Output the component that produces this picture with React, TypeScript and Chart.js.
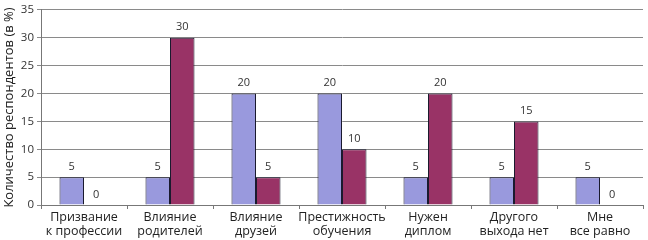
import React, { useEffect, useRef } from "react";
import { Chart, registerables } from "chart.js";

Chart.register(...registerables);

const categories: string[][] = [
  ["Призвание", "к профессии"],
  ["Влияние", "родителей"],
  ["Влияние", "друзей"],
  ["Престижность", "обучения"],
  ["Нужен", "диплом"],
  ["Другого", "выхода нет"],
  ["Мне", "все равно"],
];
const seriesA: number[] = [5, 5, 20, 20, 5, 5, 5];
const seriesB: number[] = [0, 30, 5, 10, 20, 15, 0];
const yTitle = "Количество респондентов (в %)";

const FONT = "'Open Sans', 'Noto Sans', sans-serif";

const valueLabels = {
  id: "valueLabels",
  afterDatasetsDraw(chart: any) {
    const ctx = chart.ctx;
    ctx.save();
    ctx.font = `11px ${FONT}`;
    ctx.fillStyle = "#333";
    ctx.textAlign = "center";
    ctx.textBaseline = "bottom";
    chart.data.datasets.forEach((ds: any, i: number) => {
      const meta = chart.getDatasetMeta(i);
      meta.data.forEach((bar: any, j: number) => {
        ctx.fillText(String(ds.data[j]), bar.x, bar.y - 5);
      });
    });
    ctx.restore();
  },
};

export default function App() {
  const ref = useRef<HTMLCanvasElement>(null);
  useEffect(() => {
    document.body.style.margin = "0";
    const chart = new Chart(ref.current!, {
      type: "bar",
      data: {
        labels: categories,
        datasets: [
          {
            data: seriesA,
            backgroundColor: "#9999dd",
            borderColor: "#1a1a2e",
            borderWidth: 1,
            categoryPercentage: 0.57,
            barPercentage: 1,
          },
          {
            data: seriesB,
            backgroundColor: "#993366",
            borderColor: "#1a1a2e",
            borderWidth: 1,
            categoryPercentage: 0.57,
            barPercentage: 1,
          },
        ],
      },
      options: {
        animation: false,
        responsive: false,
        maintainAspectRatio: false,
        layout: { padding: { top: 5, right: 5, left: 0, bottom: 0 } },
        plugins: { legend: { display: false }, tooltip: { enabled: false } },
        scales: {
          x: {
            grid: {
              offset: true,
              drawOnChartArea: false,
              tickLength: 4,
              color: "#777",
            },
            border: { color: "#777" },
            ticks: {
              color: "#222",
              padding: 1,
              maxRotation: 0,
              autoSkip: false,
              font: { family: FONT, size: 12.5, lineHeight: 1.15 },
            },
            afterFit(scale: any) {
              scale.height = 35;
            },
          },
          y: {
            min: 0,
            max: 35,
            ticks: {
              stepSize: 5,
              color: "#333",
              padding: 3,
              font: { family: FONT, size: 11.5 },
            },
            grid: { color: "#8a8a8a", tickLength: 4 },
            border: { color: "#777" },
            title: {
              display: true,
              text: yTitle,
              color: "#222",
              padding: { top: 1, bottom: 0 },
              font: { family: FONT, size: 13 },
            },
            afterFit(scale: any) {
              scale.width = 41;
            },
          },
        },
      },
      plugins: [valueLabels],
    });
    return () => chart.destroy();
  }, []);
  return <canvas ref={ref} width={648} height={240} style={{ display: "block" }} />;
}
